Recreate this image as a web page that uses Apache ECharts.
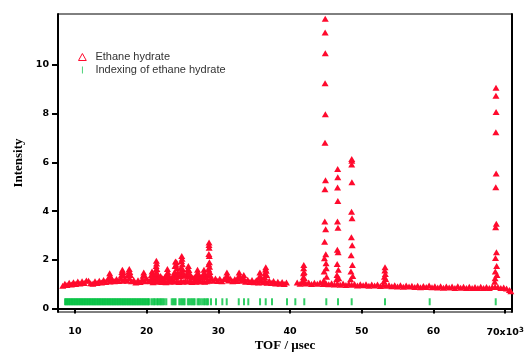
<!DOCTYPE html>
<html>
<head>
<meta charset="utf-8">
<script src="https://cdn.jsdelivr.net/npm/echarts@6/dist/echarts.min.js"></script>
<style>html,body{margin:0;padding:0;background:#fff}#c{width:526px;height:352px}</style>
</head>
<body>
<div id="c"></div>
<script>
// ---- data (TOF in units of 10^3 µsec) ----
const xTicks = [10, 20, 30, 40, 50, 60, 70];
const yTicks = [0, 2, 4, 6, 8, 10];
const baseTof = [8.3,8.6,8.9,9.2,9.5,9.8,10.1,10.4,10.7,11.0,11.3,11.6,11.9,12.2,12.5,12.8,13.1,13.4,13.7,14.0,14.3,14.6,14.9,15.2,15.5,15.8,16.1,16.4,16.7,17.0,17.3,17.6,17.9,18.2,18.5,18.8,19.1,19.4,19.7,20.0,20.3,
  29.0,29.3,29.6,29.9,30.2,30.5,30.8,31.1,31.4,31.7,32.0,32.3,32.6,32.9,33.2,33.5,33.8,34.1,34.4,34.7,35.0,35.3,35.6,35.9,36.2,36.5,36.8,37.1,37.4,37.7,38.0,38.3,38.6,38.9,39.2,39.5,
  41.0,41.4,41.8,42.2,42.6,43.0,43.4,43.8,44.2,44.6,45.0,45.4,45.8,46.2,46.6,47.0,47.4,47.8,48.2,48.6,49.0,49.4,49.8,50.2,50.6,51.0,51.4,51.8,52.2,52.6,53.0,53.4,53.8,54.2,54.6,55.0,55.4,55.8,56.2,56.6,57.0,57.4,57.8,58.2,58.6,59.0,59.4,59.8,60.2,60.6,61.0,61.4,61.8,62.2,62.6,63.0,63.4,63.8,64.2,64.6,65.0,65.4,65.8,66.2,66.6,67.0,67.4,67.8,68.2,68.6,69.0,69.4,69.8,70.2,70.6,70.8];
const baseInt = [0.94,1.02,0.97,1.06,0.99,1.08,1.01,1.11,1.03,1.12,1.05,1.15,1.14,1.04,1.02,1.12,1.05,1.14,1.07,1.17,1.09,1.19,1.11,1.20,1.12,1.21,1.13,1.23,1.14,1.22,1.14,1.24,1.12,1.17,1.07,1.16,1.09,1.19,1.12,1.22,1.13,
  1.24,1.14,1.23,1.13,1.22,1.12,1.21,1.24,1.15,1.22,1.12,1.21,1.13,1.23,1.14,1.21,1.10,1.18,1.09,1.17,1.08,1.16,1.07,1.17,1.08,1.16,1.06,1.14,1.05,1.13,1.03,1.10,1.02,1.09,1.01,1.07,
  1.07,1.02,1.08,1.03,1.07,1.01,1.06,1.02,1.07,1.01,1.05,1.00,1.04,0.99,1.03,0.98,1.03,0.97,1.02,0.98,1.01,0.95,1.00,0.96,1.00,0.94,0.99,0.95,0.99,0.93,0.98,0.94,0.97,0.92,0.96,0.91,0.96,0.90,0.95,0.91,0.94,0.89,0.94,0.88,0.93,0.89,0.95,0.88,0.92,0.87,0.92,0.86,0.91,0.87,0.91,0.85,0.92,0.86,0.90,0.85,0.90,0.85,0.89,0.84,0.90,0.85,0.89,0.84,0.89,0.90,0.89,0.85,0.87,0.82,0.76,0.71];
// busy region 20.6–28.7: two rows of points
const busyTof = [20.6,20.9,21.2,21.5,21.8,22.1,22.4,22.7,23.0,23.3,23.6,23.9,24.2,24.5,24.8,25.1,25.4,25.7,26.0,26.3,26.6,26.9,27.2,27.5,27.8,28.1,28.4,28.7];
const busyLow = [1.12,1.08,1.13,1.10,1.14,1.09,1.12,1.08,1.13,1.10,1.14,1.11,1.12,1.09,1.13,1.10,1.14,1.11,1.13,1.09,1.12,1.10,1.14,1.11,1.13,1.10,1.12,1.15];
const busyHigh = [1.30,1.26,1.33,1.28,1.34,1.25,1.30,1.27,1.32,1.26,1.36,1.30,1.38,1.33,1.40,1.35,1.37,1.31,1.34,1.28,1.30,1.26,1.33,1.29,1.32,1.30,1.35,1.38];
// Bragg peak points
const peakTof = [14.75,14.85,14.95, 16.45,16.55,16.62,16.7,16.8, 17.4,17.5,17.58,17.66,17.75, 19.5,19.6,19.7, 20.65,20.75,20.85,
  21.25,21.3,21.33,21.36,21.39,21.43,21.48, 22.8,22.9,23.0, 23.9,23.97,24.02,24.1,24.17,24.25,24.33,
  24.75,24.82,24.87,24.9,24.94,24.98,25.05,25.12, 25.65,25.75,25.82,25.9,25.98, 27.0,27.1,27.2, 27.9,28.0,28.1,
  28.6,28.64,28.66,28.68,28.7,28.71,28.72,28.74,28.76,28.78,28.82, 31.1,31.2,31.3, 32.8,32.9,33.0, 33.45,33.55, 35.7,35.8,35.9,
  36.45,36.52,36.58,36.62,36.68,36.75, 41.8,41.85,41.88,41.9,41.92,41.96,42.0,
  44.7,44.76,44.8,44.83,44.85,44.87,44.88,44.89,44.9,44.91,44.92,44.93,44.95,44.97,44.99,45.02,45.05,45.1,
  46.5,46.55,46.58,46.6,46.62,46.63,46.65,46.66,46.67,46.69,46.71,46.74,46.8,
  48.45,48.5,48.53,48.56,48.58,48.6,48.61,48.62,48.63,48.65,48.67,48.7,48.75,
  53.1,53.17,53.22,53.25,53.29,53.34,
  68.55,68.6,68.63,68.66,68.68,68.7,68.71,68.72,68.73,68.74,68.75,68.77,68.79,68.82,68.86];
const peakInt = [1.30,1.45,1.32, 1.36,1.50,1.59,1.50,1.37, 1.38,1.52,1.62,1.50,1.38, 1.35,1.48,1.36, 1.38,1.52,1.40,
  1.45,1.60,1.75,1.96,1.85,1.62,1.45, 1.42,1.62,1.48, 1.50,1.75,1.93,1.80,1.90,1.65,1.48,
  1.50,1.70,1.95,2.16,2.05,1.82,1.60,1.45, 1.45,1.62,1.75,1.58,1.45, 1.42,1.59,1.45, 1.42,1.59,1.45,
  1.45,1.62,1.82,2.24,2.61,2.71,2.50,2.16,1.90,1.72,1.50, 1.32,1.48,1.34, 1.32,1.48,1.33, 1.30,1.38, 1.30,1.48,1.32,
  1.30,1.45,1.60,1.70,1.55,1.38, 1.15,1.29,1.45,1.66,1.79,1.50,1.25,
  1.15,1.52,2.07,2.74,3.57,4.90,6.81,9.25,11.33,11.89,10.48,7.98,5.27,3.26,2.23,1.86,1.66,1.31,
  1.20,1.38,1.83,2.41,3.57,4.97,5.73,5.39,4.42,3.32,2.31,1.59,1.25,
  1.20,1.52,2.19,2.93,3.97,5.91,6.14,6.07,5.19,3.71,2.60,1.79,1.34,
  1.12,1.31,1.56,1.70,1.42,1.21,
  1.10,1.25,1.52,2.08,3.34,4.98,7.24,8.73,9.06,8.07,5.54,3.48,2.31,1.75,1.38];
// reflection positions (indexing)
const idxTof = [8.62,8.75,8.9,9.02,9.18,9.3,9.45,9.6,9.72,9.88,10.0,10.15,10.3,10.42,10.58,10.7,10.85,11.0,11.12,11.28,11.4,11.55,11.7,11.82,11.98,
  12.1,12.25,12.4,12.52,12.68,12.8,12.95,13.1,13.22,13.38,13.5,13.65,13.8,13.92,14.08,14.2,14.35,14.5,14.62,14.78,14.9,15.05,15.2,15.32,15.48,
  15.6,15.75,15.9,16.02,16.18,16.3,16.45,16.6,16.72,16.88,17.0,17.15,17.3,17.42,17.58,17.7,17.85,18.0,18.12,18.28,18.4,18.55,18.7,18.82,18.98,
  19.1,19.25,19.4,19.52,19.68,19.8,19.95,20.1,20.22,20.33,
  20.65,20.85,21.05,21.2, 21.45,21.6,21.8,21.95,22.1, 22.3,22.5,22.75, 23.5,23.7,23.9,24.05, 24.55,24.75,24.95,25.15,25.3,
  25.75,25.95,26.15,26.35,26.55,26.7, 27.1,27.28, 27.5,27.75, 28.0,28.2,28.4,28.58,
  28.98,29.68,30.56,31.17,32.85,33.58,34.18,35.82,36.61,37.49,39.58,40.74,41.99,45.06,46.69,48.6,53.25,59.48,68.69];
const idxLevel = 0.28;

const RED = '#ff0a2d', GREEN = '#00c040';
const redPts = [];
baseTof.forEach((x, i) => redPts.push([x, baseInt[i]]));
busyTof.forEach((x, i) => { redPts.push([x, busyLow[i]]); redPts.push([x + 0.15, busyHigh[i]]); });
peakTof.forEach((x, i) => redPts.push([x, peakInt[i]]));
const idxPts = idxTof.map(x => [x, idxLevel]);

const chart = echarts.init(document.getElementById('c'), null, {renderer: 'canvas'});
const tickFont = {fontFamily: 'DejaVu Sans', fontWeight: 'bold', fontSize: 9.5, color: '#000'};
chart.setOption({
  animation: false,
  backgroundColor: '#fff',
  grid: {left: 58, right: 14, top: 14, bottom: 40, show: true, borderColor: '#000', borderWidth: 1,
         containLabel: false, outerBoundsMode: 'none'},
  legend: {
    orient: 'vertical', left: 78, top: 51, padding: 0, itemGap: 1,
    itemWidth: 16, itemHeight: 7,
    textStyle: {fontFamily: 'Liberation Sans', fontSize: 11, color: '#333', lineHeight: 12},
    data: [
      {name: 'Ethane hydrate', icon: 'path://M5,0 L10,9 L0,9 Z', itemStyle: {color: '#fff', borderColor: RED, borderWidth: 1}},
      {name: 'Indexing of ethane hydrate', icon: 'path://M0,0 L1,0 L1,8 L0,8 Z', itemStyle: {color: GREEN}}
    ]
  },
  xAxis: {
    type: 'value', min: 7.64, max: 70.96,
    name: 'TOF / µsec', nameLocation: 'middle', nameGap: 27, nameMoveOverlap: false,
    nameTextStyle: {fontFamily: 'Liberation Serif', fontWeight: 'bold', fontSize: 13, color: '#000'},
    axisLine: {lineStyle: {color: '#000', width: 2}},
    axisTick: {inside: false, length: 5, customValues: xTicks, lineStyle: {color: '#000', width: 2}},
    axisLabel: Object.assign({}, tickFont, {
      margin: 15, customValues: xTicks,
      formatter: v => v === 70 ? '{a|70x10}{s|3}' : String(v),
      rich: {a: Object.assign({}, tickFont, {lineHeight: 12}), s: Object.assign({}, tickFont, {fontSize: 7, lineHeight: 7, verticalAlign: 'top'})}
    }),
    splitLine: {show: false}
  },
  yAxis: [{
    type: 'value', min: -0.14, max: 12.09,
    name: 'Intensity', nameLocation: 'middle', nameGap: 33, nameMoveOverlap: false,
    nameTextStyle: {fontFamily: 'Liberation Serif', fontWeight: 'bold', fontSize: 13, color: '#000'},
    axisLine: {show: true, lineStyle: {color: '#000', width: 2}},
    axisTick: {show: true, inside: false, length: 6, customValues: yTicks, lineStyle: {color: '#000', width: 2}},
    axisLabel: Object.assign({}, tickFont, {margin: 9, customValues: yTicks}),
    splitLine: {show: false}
  }, {
    type: 'value', position: 'right', min: -0.14, max: 12.09,
    axisLine: {show: true, lineStyle: {color: '#000', width: 2}},
    axisTick: {show: false}, axisLabel: {show: false}, splitLine: {show: false}
  }],
  series: [
    {name: 'Ethane hydrate', type: 'scatter', symbol: 'triangle', symbolSize: [7, 6],
     itemStyle: {color: RED, opacity: 1}, data: redPts, z: 3},
    {name: 'Indexing of ethane hydrate', type: 'scatter', symbol: 'rect', symbolSize: [2, 7],
     itemStyle: {color: GREEN}, data: idxPts, z: 2}
  ]
});
</script>
</body>
</html>
